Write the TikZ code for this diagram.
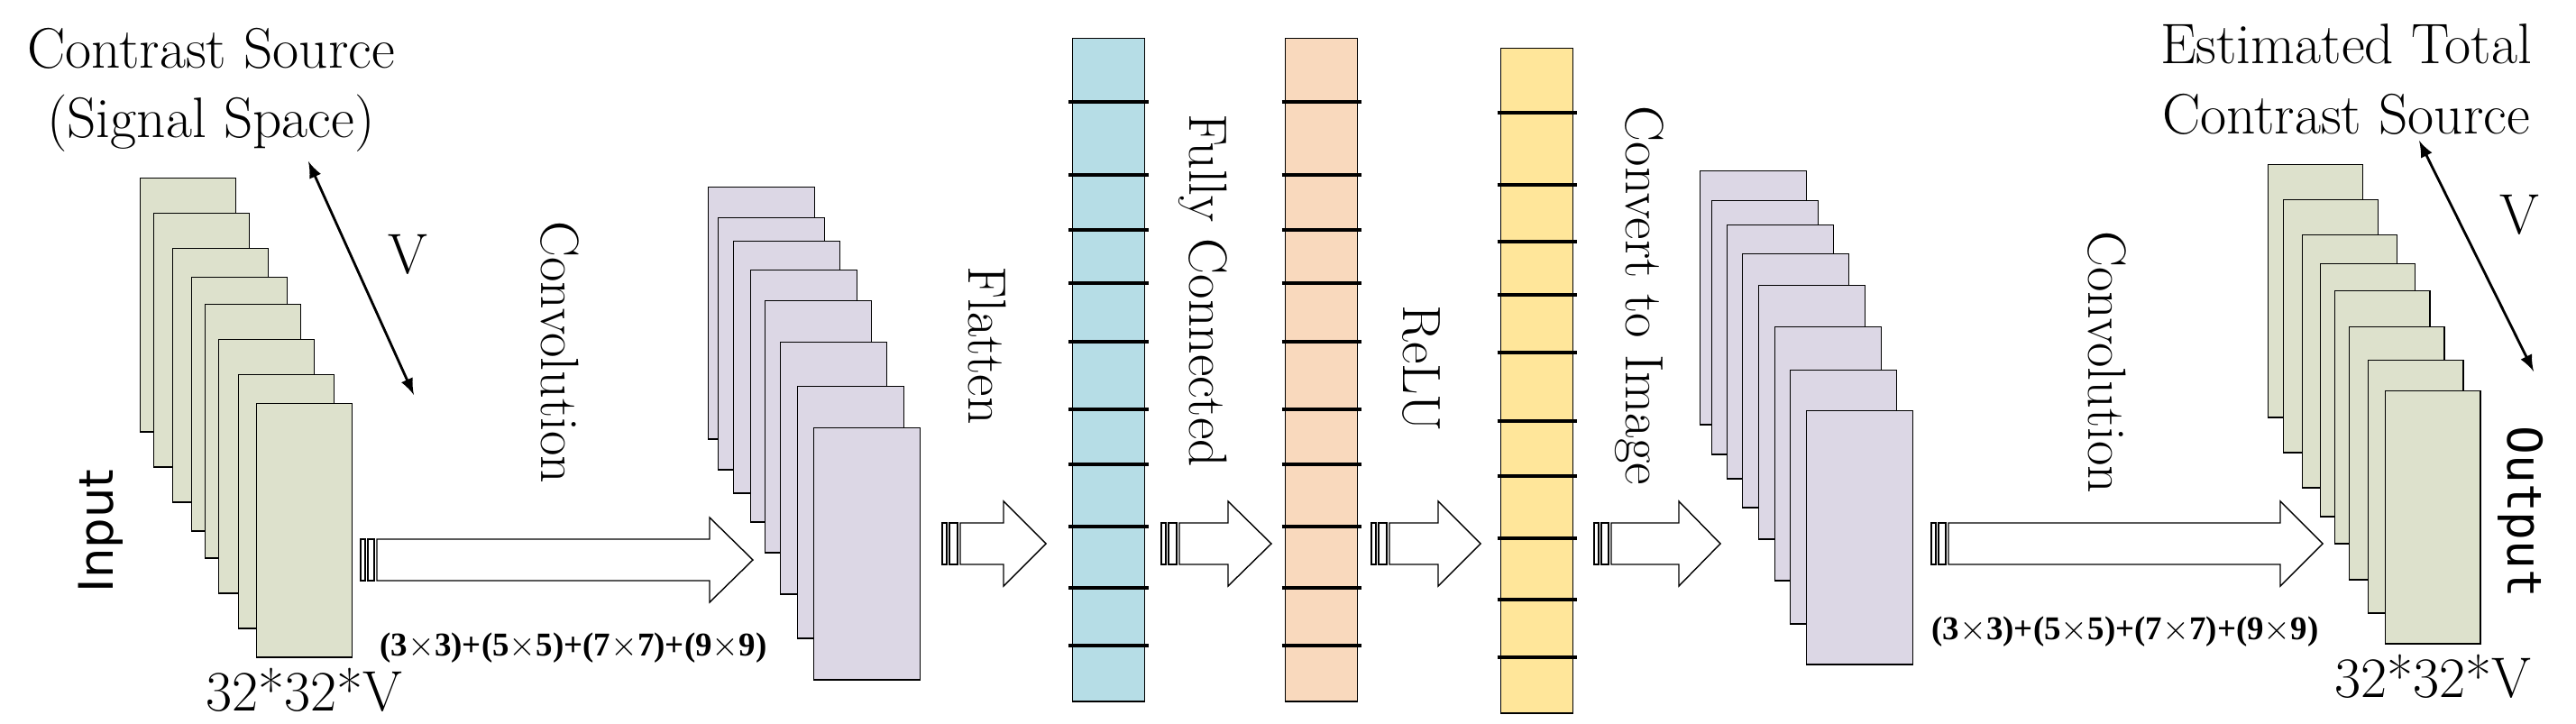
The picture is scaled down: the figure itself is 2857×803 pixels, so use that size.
\documentclass[tikz,border=0pt]{standalone}
\usepackage{fontspec}
\newfontfamily\sansfont{DejaVu Sans}
\newfontfamily\monofont{DejaVu Sans Mono}
\newfontfamily\timesfont{Liberation Serif}
\usetikzlibrary{arrows,positioning}
\definecolor{mapgreen}{HTML}{DDE1CC}
\definecolor{mappurple}{HTML}{DCD7E5}
\definecolor{fcblue}{HTML}{B6DDE6}
\definecolor{fcorange}{HTML}{F9D9BD}
\definecolor{fcyellow}{HTML}{FFE69A}

% hollow block arrow: bar x, body x, head x, tip x, centre y
\newcommand{\blockarrow}[5]{%
  \draw[thin] (#1,#5-23) rectangle ++(5,46);
  \draw[thin] (#1+8,#5-23) rectangle (#2-3,#5+23);
  \draw[thin] (#2,#5-23) -- (#3,#5-23) -- (#3,#5-47) -- (#4,#5)
    -- (#3,#5+47) -- (#3,#5+23) -- (#2,#5+23) -- cycle;}

\begin{document}
\begin{tikzpicture}[x=0.01cm,y=-0.01cm,>=stealth',
    lbl/.style={font=\fontsize{18}{20}\selectfont,inner sep=0pt},
    rlbl/.style={font=\fontsize{17}{19}\selectfont,inner sep=0pt,rotate=-90},
    formula/.style={font=\timesfont\bfseries\fontsize{10.5}{12}\selectfont,inner sep=0pt},
    map/.style 2 args={draw,thin,anchor=north west,inner sep=0pt,minimum width=#1,minimum height=#2},
    column/.style={draw,thin,anchor=north west,inner sep=0pt,minimum width=0.8cm}]
  \useasboundingbox (0,0) rectangle (2857,803);
  \tikzstyle{divider}=[line width=1.4pt]

  % input maps
  \foreach \x/\y [count=\i] in {155/197,170/236,191/275,212/307,227/337,242/376,264/415,284/447}
    \node[map={1.06cm}{2.81cm},fill=mapgreen] (in\i) at (\x,\y) {};
  \node[lbl,align=center] (src) at (234,100) {Contrast Source\\[2pt](Signal Space)};
  \node[lbl] (vin) at (452,282) {V};
  \coordinate (va) at (342,179);
  \coordinate (vb) at (459,438);
  \draw[<->,thick,>=latex] (va) -- (vb);
  \node[font=\sansfont\fontsize{15}{17}\selectfont,inner sep=0pt,rotate=90] (input) at (112,589) {Input};
  \node[lbl,below=3pt of in8.south] (insize) {32*32*V};

  % first feature maps
  \foreach \x/\y [count=\i] in {785/207,796/241,813/267,832/299,848/333,865/379,884/428,902/474}
    \node[map={1.18cm}{2.79cm},fill=mappurple] (fa\i) at (\x,\y) {};
  \blockarrow{400}{418}{787}{835}{621}
  \node[rlbl] (conva) at (621,391) {Convolution};
  \node[formula] (kera) at (636,719) {(3$\times$3)+(5$\times$5)+(7$\times$7)+(9$\times$9)};

  % flatten / fully connected / relu vectors
  \node[column,fill=fcblue,minimum height=7.35cm] (flat) at (1189,42) {};
  \node[column,fill=fcorange,minimum height=7.35cm] (fc) at (1425,42) {};
  \node[column,fill=fcyellow,minimum height=7.37cm] (relu) at (1664,53) {};
  \foreach \y in {113,194,255,314,379,454,515,584,652,716} {
    \draw[divider] ([xshift=-1pt]flat.west |- 0,\y) -- ([xshift=1pt]flat.east |- 0,\y);
    \draw[divider] ([xshift=-1pt]fc.west |- 0,\y) -- ([xshift=1pt]fc.east |- 0,\y);
  }
  \foreach \y in {125,205,268,327,391,467,528,597,665,729}
    \draw[divider] ([xshift=-1pt]relu.west |- 0,\y) -- ([xshift=1pt]relu.east |- 0,\y);
  \blockarrow{1045}{1065}{1113}{1160}{603}
  \blockarrow{1288}{1308}{1362}{1410}{603}
  \blockarrow{1521}{1541}{1595}{1642}{603}
  \blockarrow{1768}{1787}{1862}{1908}{603}
  \node[rlbl] (flatten) at (1095,383) {Flatten};
  \node[rlbl] (fully) at (1334,322) {Fully Connected};
  \node[rlbl] (act) at (1576,409) {ReLU};
  \node[rlbl] (toimg) at (1818,328) {Convert to Image};

  % second feature maps
  \foreach \x/\y [count=\i] in {1885/189,1898/222,1915/249,1932/281,1950/316,1968/362,1985/410,2003/455}
    \node[map={1.18cm}{2.81cm},fill=mappurple] (fb\i) at (\x,\y) {};
  \blockarrow{2142}{2161}{2529}{2576}{603}
  \node[rlbl] (convb) at (2337,402) {Convolution};
  \node[formula] (kerb) at (2357,701) {(3$\times$3)+(5$\times$5)+(7$\times$7)+(9$\times$9)};

  % output maps
  \foreach \x/\y [count=\i] in {2515/182,2532/221,2553/260,2573/292,2589/322,2605/362,2626/399,2645/433}
    \node[map={1.05cm}{2.80cm},fill=mapgreen] (out\i) at (\x,\y) {};
  \node[lbl,align=center] (est) at (2602,88) {Estimated Total\\[2pt]Contrast Source};
  \node[lbl] (vout) at (2794,238) {V};
  \coordinate (vc) at (2683,156);
  \coordinate (vd) at (2810,412);
  \draw[<->,thick,>=latex] (vc) -- (vd);
  \node[font=\monofont\fontsize{15}{17}\selectfont,inner sep=0pt,rotate=-90] (output) at (2796,568) {Output};
  \node[lbl,below=3pt of out8.south] (outsize) {32*32*V};
\end{tikzpicture}
\end{document}
